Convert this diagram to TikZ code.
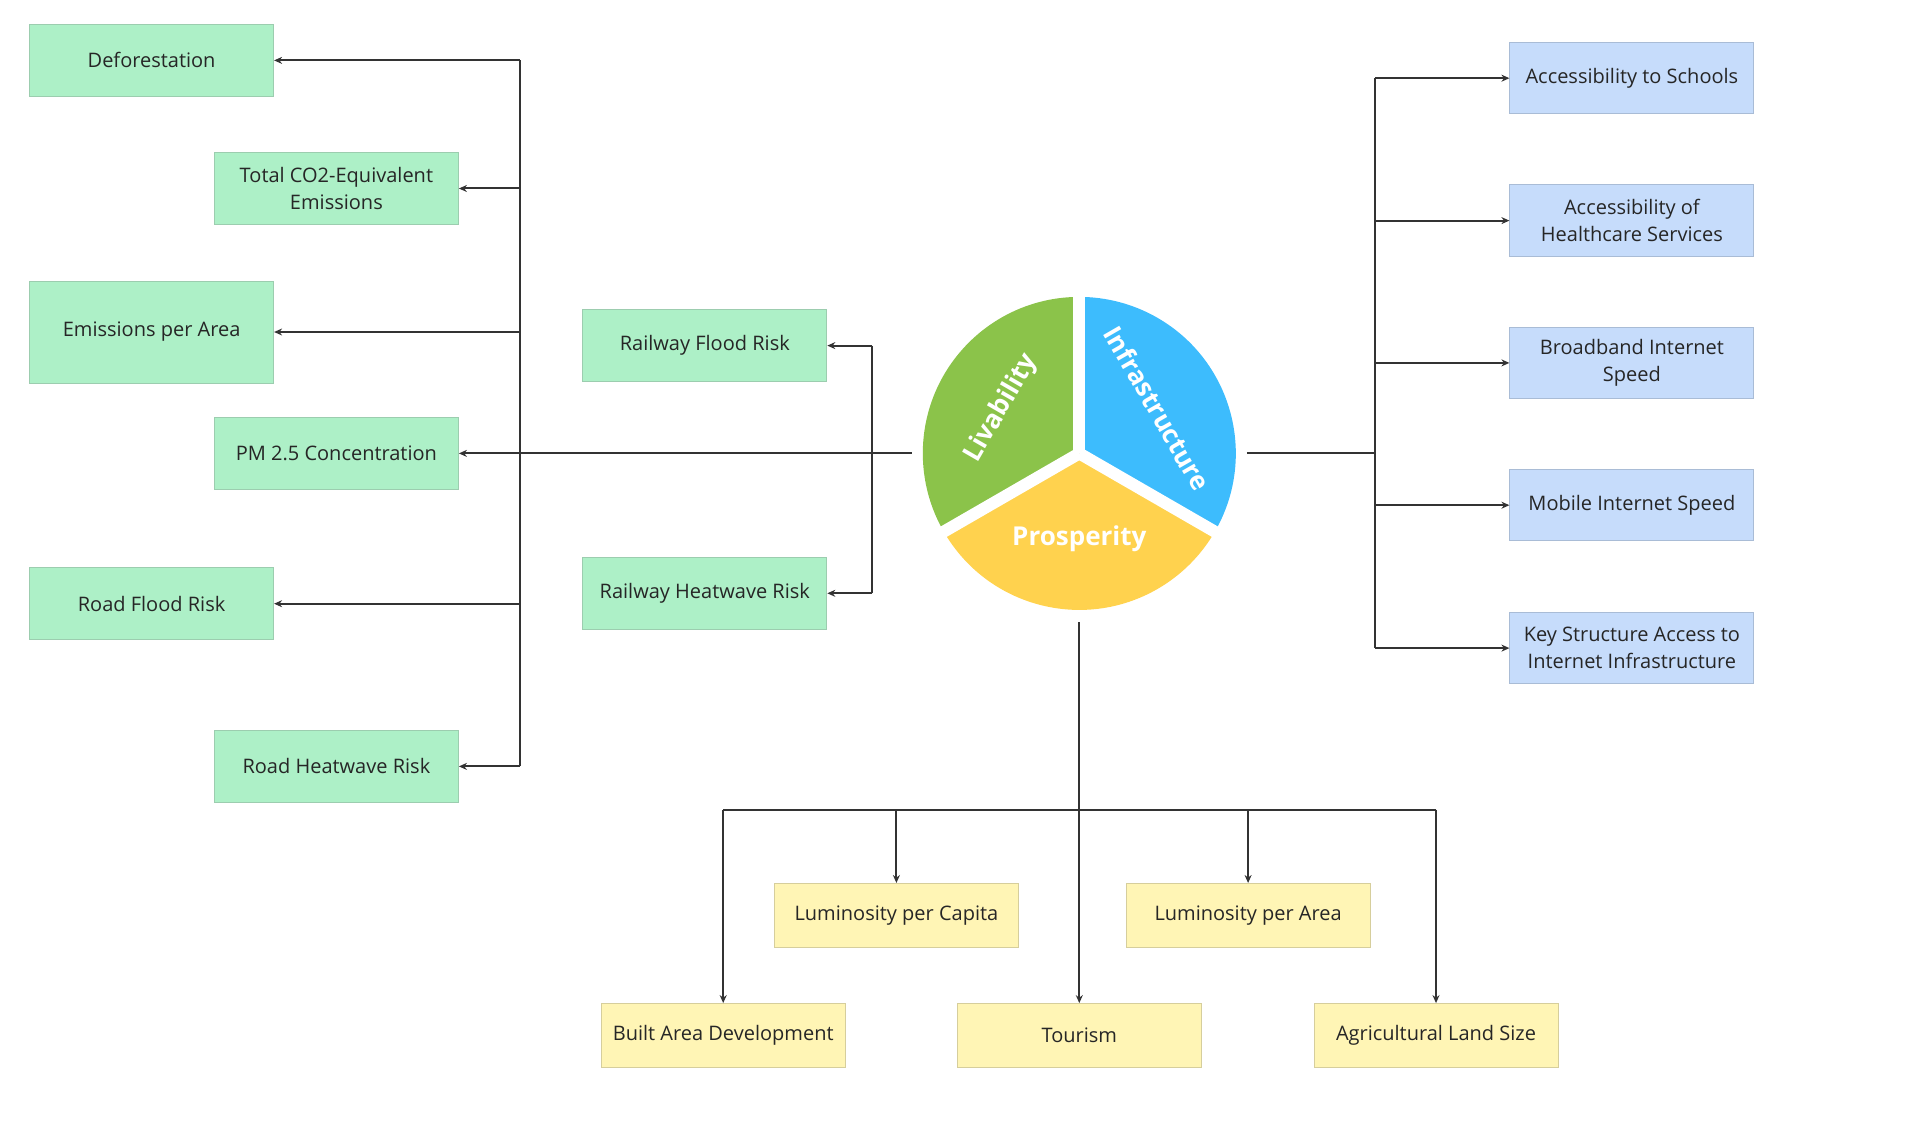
\documentclass[tikz,border=0pt]{standalone}
\usepackage{fontspec}
\setmainfont{Open Sans}
\usepackage{xcolor}
\usetikzlibrary{arrows.meta,calc}
\definecolor{livfill}{HTML}{ADF0C7}
\definecolor{livline}{HTML}{9CCDAF}
\definecolor{inffill}{HTML}{C6DCFB}
\definecolor{infline}{HTML}{A9BCD6}
\definecolor{profill}{HTML}{FFF5B5}
\definecolor{proline}{HTML}{D6CE9C}
\definecolor{pgreen}{HTML}{8BC34A}
\definecolor{pblue}{HTML}{3DBCFD}
\definecolor{pyellow}{HTML}{FFD24E}
\definecolor{ink}{HTML}{333333}

\begin{document}
\begin{tikzpicture}[x=1pt,y=-1pt,>={Stealth[length=8pt,width=7pt]},
  box/.style={rectangle,line width=1pt,minimum width=244pt,minimum height=71.5pt,
    align=center,text=black!85,font={\fontsize{20}{27}\selectfont}},
  liv/.style={box,fill=livfill,draw=livline},
  inf/.style={box,fill=inffill,draw=infline},
  pro/.style={box,fill=profill,draw=proline,minimum height=64pt},
  link/.style={->,line width=2pt,ink},
  bar/.style={line width=2pt,ink},
  pietext/.style={white,font={\fontsize{26}{30}\selectfont\bfseries}}]
  \useasboundingbox (0,0) rectangle (1932,1142);
  % pie
  \coordinate (c) at (1079.3,453.4);
  \fill[pblue] (c) -- ++(-30:156.5pt) arc[start angle=-30,end angle=90,radius=156.5pt] -- cycle;
  \fill[pgreen] (c) -- ++(90:156.5pt) arc[start angle=90,end angle=210,radius=156.5pt] -- cycle;
  \fill[pyellow] (c) -- ++(210:156.5pt) arc[start angle=210,end angle=330,radius=156.5pt] -- cycle;
  \foreach \a in {90,210,330}
    \draw[white,line width=12pt] (c) -- ++(\a:175pt);
  \node[pietext,rotate=60] (livl) at ($(c)+(150:90pt)$) {Livability};
  \node[pietext,rotate=-60] (infl) at ($(c)+(30:90pt)$) {Infrastructure};
  \node[pietext] (prol) at ($(c)+(270:85pt)$) {Prosperity};
  % livability
  \node[liv] (defo) at (151.6,60.4) {Deforestation};
  \node[liv] (co2) at (336.4,188.5) {Total CO2-Equivalent\\Emissions};
  \node[liv,minimum height=102pt] (emarea) at (151.6,332) {Emissions per Area};
  \node[liv] (pm) at (336.4,453.4) {PM 2.5 Concentration};
  \node[liv] (roadfl) at (151.6,603.7) {Road Flood Risk};
  \node[liv] (roadhw) at (336.4,766.4) {Road Heatwave Risk};
  \node[liv] (railfl) at (704.8,345.6) {Railway Flood Risk};
  \node[liv] (railhw) at (704.8,593.3) {Railway Heatwave Risk};
  \coordinate (ls) at (911.8,453.4);
  \coordinate (lx) at (520,0);
  \coordinate (mx) at (872.3,0);
  \draw[link] (ls) -- (pm.east);
  \draw[bar] (defo.east -| lx) -- (roadhw.east -| lx);
  \foreach \n in {defo,co2,emarea,roadfl,roadhw}
    \draw[link] (\n.east -| lx) -- (\n.east);
  \draw[bar] (railfl.east -| mx) -- (railhw.east -| mx);
  \foreach \n in {railfl,railhw}
    \draw[link] (\n.east -| mx) -- (\n.east);
  % infrastructure
  \node[inf] (schools) at (1631.9,78.2) {Accessibility to Schools};
  \node[inf] (health) at (1631.9,220.6) {Accessibility of\\Healthcare Services};
  \node[inf] (broad) at (1631.9,362.9) {Broadband Internet\\Speed};
  \node[inf] (mobile) at (1631.9,505.2) {Mobile Internet Speed};
  \node[inf] (keyst) at (1631.9,648.1) {Key Structure Access to\\Internet Infrastructure};
  \coordinate (rs) at (1246.9,453.4);
  \coordinate (rx) at (1375,0);
  \draw[bar] (rs) -- (rs -| rx);
  \draw[bar] (schools.west -| rx) -- (keyst.west -| rx);
  \foreach \n in {schools,health,broad,mobile,keyst}
    \draw[link] (\n.west -| rx) -- (\n.west);
  % prosperity
  \node[pro] (lumcap) at (896.4,915.5) {Luminosity per Capita};
  \node[pro] (lumarea) at (1248.1,915.5) {Luminosity per Area};
  \node[pro] (built) at (723.2,1035.6) {Built Area Development};
  \node[pro] (tour) at (1079.3,1035.6) {Tourism};
  \node[pro] (agri) at (1436,1035.6) {Agricultural Land Size};
  \coordinate (bs) at (1079.3,622.2);
  \coordinate (by) at (0,809.5);
  \draw[link] (bs) -- (tour.north);
  \draw[bar] (built.north |- by) -- (agri.north |- by);
  \foreach \n in {built,lumcap,lumarea,agri}
    \draw[link] (\n.north |- by) -- (\n.north);
\end{tikzpicture}
\end{document}
